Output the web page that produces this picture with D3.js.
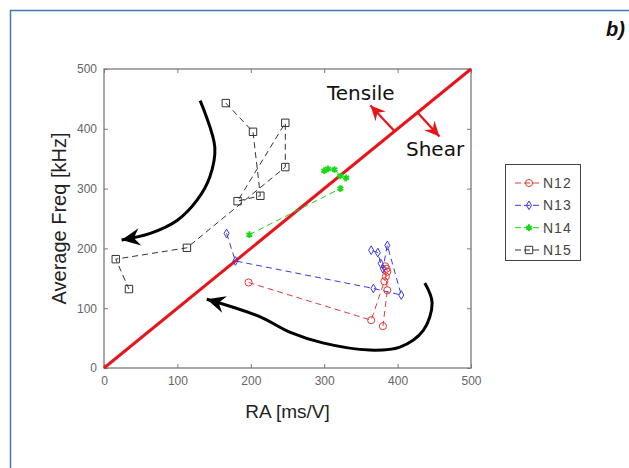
<!DOCTYPE html>
<html>
<head>
<meta charset="utf-8">
<script src="https://cdn.jsdelivr.net/npm/d3@7"></script>
<style>
  body { margin: 0; background: #fff; }
  svg { display: block; }
</style>
</head>
<body>
<div id="chart"></div>
<script>
// series (RA in ms/V, average frequency in kHz)
const n12X = [197, 364, 382, 384, 386, 385, 383, 386, 380];
const n12Y = [143, 80, 145, 153, 161, 166, 170, 130, 70];
const n13X = [167, 179, 367, 405, 386, 380, 377, 373, 364];
const n13Y = [225, 179, 133, 122, 205, 166, 175, 193, 197];
const n14X = [198, 322, 330, 322, 314, 305, 300];
const n14Y = [223, 300, 318, 321, 332, 333, 330];
const n15X = [166, 203, 213, 182, 247, 247, 113, 16, 34];
const n15Y = [443, 395, 288, 279, 410, 336, 201, 182, 132];

const seriesNames = ["N12", "N13", "N14", "N15"];
const ticks = [0, 100, 200, 300, 400, 500];

// annotation arrows, in data units
const upperArrow = [[131, 447], [151, 369], [144, 319], [127, 281], [100, 247], [63, 225], [24, 214]];
const lowerArrow = [[437, 142], [447, 109], [435, 63], [403, 35], [362, 30], [298, 42], [253, 60], [212, 86], [140, 115]];
const tensileArrow = [[396, 396], [363, 439]];
const shearArrow = [[428, 426], [457, 387]];

const W = 629, H = 468;
const margin = { top: 69, right: 158, bottom: 100, left: 104 };

const svg = d3.select("#chart").append("svg")
  .attr("width", W)
  .attr("height", H);

// frame
svg.append("path")
  .attr("d", `M10.5,${H} L10.5,10.5 L${W},10.5`)
  .attr("fill", "none")
  .attr("stroke", "#3f7ab3")
  .attr("stroke-width", 1.5);

svg.append("text")
  .attr("x", 625).attr("y", 36)
  .attr("text-anchor", "end")
  .attr("font-family", "Liberation Sans, Arial, sans-serif")
  .attr("font-size", 20)
  .attr("font-weight", "bold")
  .attr("font-style", "italic")
  .attr("fill", "#111")
  .text("b)");

const x = d3.scaleLinear().domain([0, 500]).range([margin.left, W - margin.right]);
const y = d3.scaleLinear().domain([0, 500]).range([H - margin.bottom, margin.top]);

const defs = svg.append("defs");
const addHead = (id, color, size) => {
  defs.append("marker")
    .attr("id", id)
    .attr("markerUnits", "userSpaceOnUse")
    .attr("viewBox", "-16 -8 17 16")
    .attr("refX", 0).attr("refY", 0)
    .attr("markerWidth", size).attr("markerHeight", size)
    .attr("orient", "auto")
    .append("path")
    .attr("d", "M0,0 L-15,-7 L-10,0 L-15,7 Z")
    .attr("fill", color);
};
addHead("headBlack", "#000", 21);
addHead("headRed", "#e8141b", 17);

const tickSize = 4;
const axisColor = "#7a7a7a";
const tickFont = "Liberation Sans, Arial, sans-serif";

// axes box with inward ticks on all sides
const axes = svg.append("g");
axes.append("rect")
  .attr("x", x(0)).attr("y", y(500))
  .attr("width", x(500) - x(0)).attr("height", y(0) - y(500))
  .attr("fill", "none")
  .attr("stroke", axisColor)
  .attr("stroke-width", 1.3);

const xb = axes.append("g").attr("transform", `translate(0,${y(0)})`)
  .call(d3.axisBottom(x).tickValues(ticks).tickSize(-tickSize).tickPadding(8));
const xt = axes.append("g").attr("transform", `translate(0,${y(500)})`)
  .call(d3.axisTop(x).tickValues(ticks).tickSize(-tickSize).tickFormat(""));
const yl = axes.append("g").attr("transform", `translate(${x(0)},0)`)
  .call(d3.axisLeft(y).tickValues(ticks).tickSize(-tickSize).tickPadding(7));
const yr = axes.append("g").attr("transform", `translate(${x(500)},0)`)
  .call(d3.axisRight(y).tickValues(ticks).tickSize(-tickSize).tickFormat(""));

[xb, xt, yl, yr].forEach(g => {
  g.select(".domain").remove();
  g.selectAll("line").attr("stroke", axisColor);
  g.selectAll("text")
    .attr("font-family", tickFont)
    .attr("font-size", 12)
    .attr("fill", "#666");
});

// axis titles
svg.append("text")
  .attr("x", (x(0) + x(500)) / 2).attr("y", 418)
  .attr("text-anchor", "middle")
  .attr("font-family", tickFont)
  .attr("font-size", 19)
  .attr("fill", "#222")
  .text("RA [ms/V]");

svg.append("text")
  .attr("transform", `translate(66,${(y(0) + y(500)) / 2}) rotate(-90)`)
  .attr("text-anchor", "middle")
  .attr("font-family", tickFont)
  .attr("font-size", 20)
  .attr("fill", "#222")
  .text("Average Freq [kHz]");

const toPx = d => [x(d[0]), y(d[1])];

// tensile / shear divider
svg.append("line")
  .attr("x1", x(0)).attr("y1", y(0))
  .attr("x2", x(500)).attr("y2", y(500))
  .attr("stroke", "#e8141b")
  .attr("stroke-width", 3);

[tensileArrow, shearArrow].forEach(a => {
  svg.append("path")
    .attr("d", d3.line()(a.map(toPx)))
    .attr("stroke", "#e8141b")
    .attr("stroke-width", 2.2)
    .attr("fill", "none")
    .attr("marker-end", "url(#headRed)");
});

svg.append("text")
  .attr("x", 327).attr("y", 100)
  .attr("font-family", "DejaVu Sans, sans-serif")
  .attr("font-size", 20)
  .attr("fill", "#111")
  .text("Tensile");
svg.append("text")
  .attr("x", 406).attr("y", 156)
  .attr("font-family", "DejaVu Sans, sans-serif")
  .attr("font-size", 20)
  .attr("fill", "#111")
  .text("Shear");

// curved black arrows
const curve = d3.line().curve(d3.curveCatmullRom.alpha(0.5));
[upperArrow, lowerArrow].forEach(a => {
  svg.append("path")
    .attr("d", curve(a.map(toPx)))
    .attr("stroke", "#000")
    .attr("stroke-width", 3)
    .attr("fill", "none")
    .attr("marker-end", "url(#headBlack)");
});

// series
const series = [
  { name: "N12", xs: n12X, ys: n12Y, color: "#e23a3a", symbol: d3.symbolCircle, size: 40 },
  { name: "N13", xs: n13X, ys: n13Y, color: "#3a3ae0", symbol: d3.symbolDiamond, size: 22 },
  { name: "N14", xs: n14X, ys: n14Y, color: "#18d818", symbol: d3.symbolAsterisk, size: 30 },
  { name: "N15", xs: n15X, ys: n15Y, color: "#333", symbol: d3.symbolSquare, size: 55 }
];

const line = d3.line();
series.forEach(s => {
  const pts = s.xs.map((v, i) => [x(v), y(s.ys[i])]);
  const g = svg.append("g");
  g.append("path")
    .attr("d", line(pts))
    .attr("fill", "none")
    .attr("stroke", s.color)
    .attr("stroke-width", 1)
    .attr("stroke-dasharray", "6,4");
  g.selectAll("path.m")
    .data(pts)
    .join("path")
    .attr("class", "m")
    .attr("transform", d => `translate(${d[0]},${d[1]})`)
    .attr("d", d3.symbol(s.symbol, s.size))
    .attr("fill", "none")
    .attr("stroke", s.color)
    .attr("stroke-width", s.name === "N14" ? 2 : 1);
});

// legend
const legend = svg.append("g").attr("transform", "translate(505,164)");
legend.append("rect")
  .attr("x", 0.5).attr("y", 0.5)
  .attr("width", 75).attr("height", 96)
  .attr("fill", "#fff")
  .attr("stroke", "#444");

const ly = d3.scalePoint().domain(seriesNames).range([19, 86]);
series.forEach(s => {
  const row = legend.append("g").attr("transform", `translate(0,${ly(s.name)})`);
  row.append("line")
    .attr("x1", 10).attr("x2", 36)
    .attr("stroke", s.color)
    .attr("stroke-dasharray", "6,3");
  row.append("path")
    .attr("transform", "translate(24,0)")
    .attr("d", d3.symbol(s.symbol, s.size))
    .attr("fill", "none")
    .attr("stroke", s.color)
    .attr("stroke-width", s.name === "N14" ? 2 : 1);
  row.append("text")
    .attr("x", 38).attr("y", 5)
    .attr("font-family", tickFont)
    .attr("font-size", 14)
    .attr("letter-spacing", 1)
    .attr("fill", "#444")
    .text(s.name);
});
</script>
</body>
</html>
